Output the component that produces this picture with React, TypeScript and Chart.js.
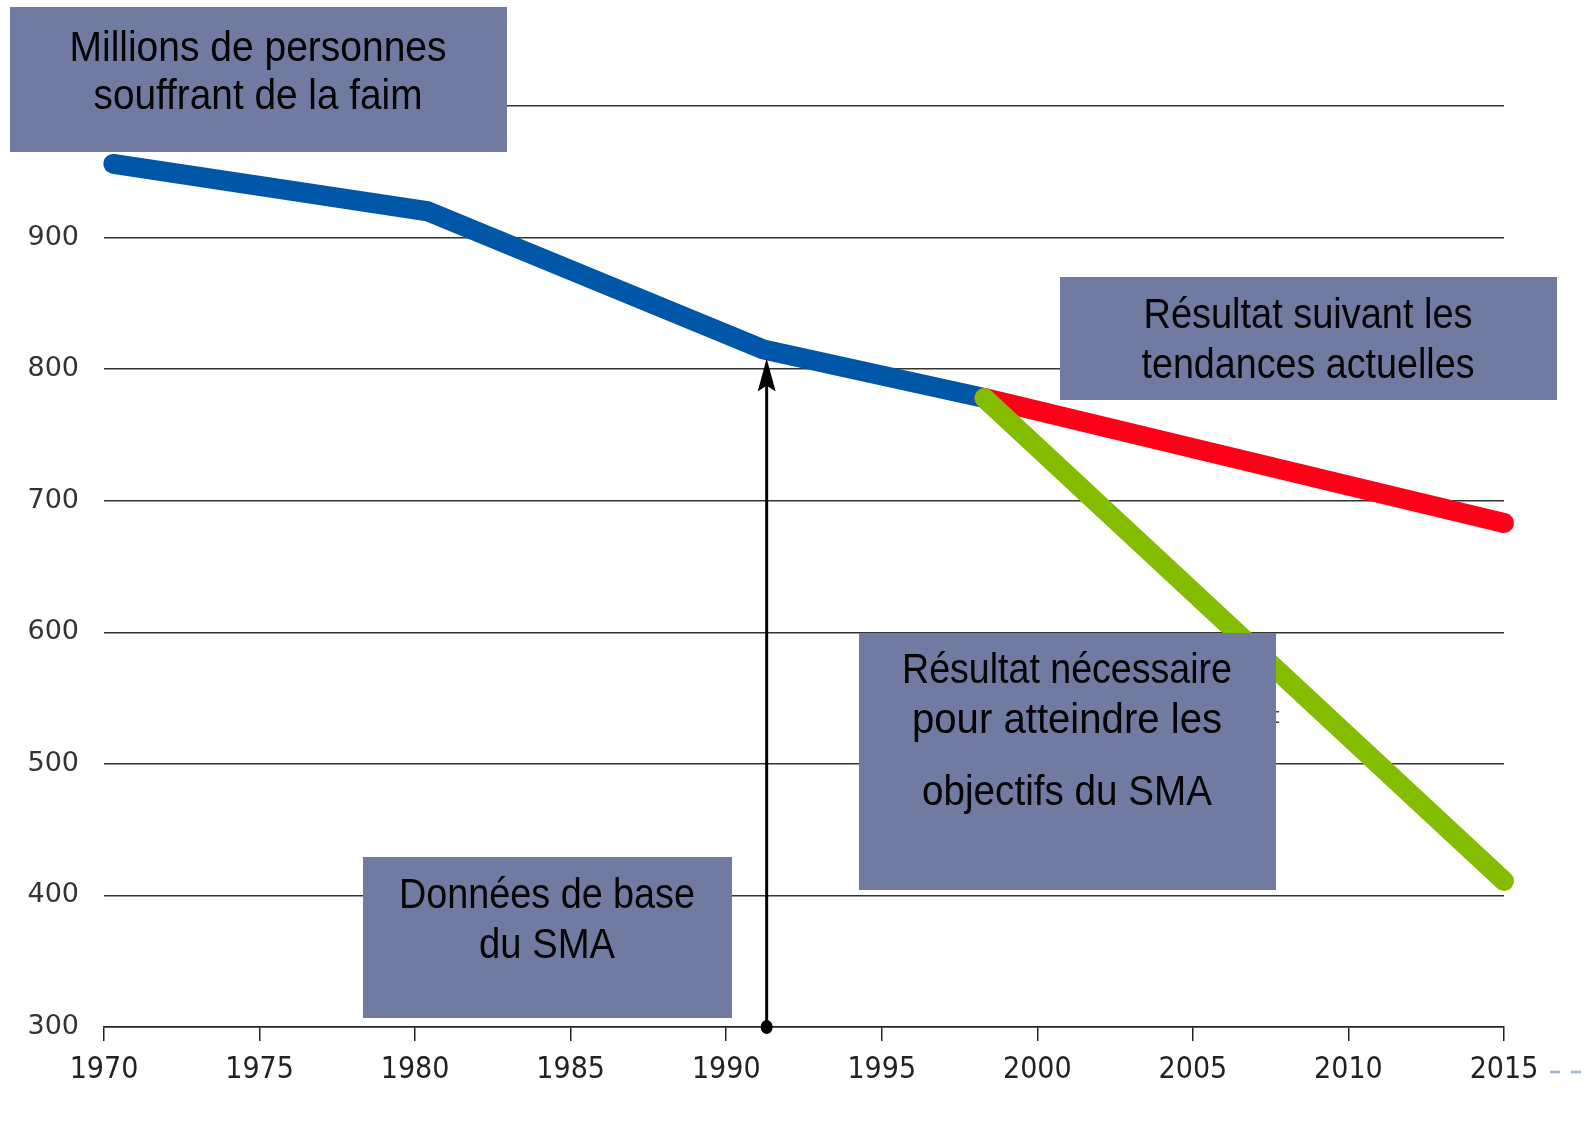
import React, { useEffect, useRef } from "react";
import { Chart, registerables } from "chart.js";

Chart.register(...registerables);

// ---- Data ----
const observedYears = [1970.3, 1980.4, 1991.2, 1998.3];
const observedValues = [956, 920, 815, 778];

const trendYears = [1998.3, 2015];
const trendValues = [778, 683];

const targetYears = [1998.3, 2015];
const targetValues = [778, 411];

const baselineYear = 1991.3;
const baselineFrom = 300;
const baselineTo = 808;

const xMin = 1970;
const xMax = 2015;
const xStep = 5;
const yMin = 300;
const yMax = 1000;
const yStep = 100;

const titleLines = ["Millions de personnes", "souffrant de la faim"];
const trendLines = ["Résultat suivant les", "tendances actuelles"];
const targetLines = ["Résultat nécessaire", "pour atteindre les", "objectifs du SMA"];
const baseLines = ["Données de base", "du SMA"];

// ---- Styles / layout ----
const BOX_COLOR = "#717BA1";
const BOX_FONT = "43px 'Liberation Sans', Arial, sans-serif";

type Box = { x: number; y: number; w: number; h: number; cx: number; baselines: number[]; widths: number[]; lines: string[] };

const boxes: Box[] = [
  { x: 10, y: 7, w: 497, h: 145, cx: 258, baselines: [61, 109], widths: [377, 329], lines: titleLines },
  { x: 1060, y: 277, w: 497, h: 123, cx: 1308, baselines: [328, 378], widths: [329, 333], lines: trendLines },
  { x: 859, y: 633, w: 417, h: 257, cx: 1067, baselines: [683, 733, 805], widths: [330, 310, 290], lines: targetLines },
  { x: 363, y: 857, w: 369, h: 161, cx: 547, baselines: [908, 958], widths: [296, 136], lines: baseLines },
];

const toPoints = (xs: number[], ys: number[]) => xs.map((x, i) => ({ x, y: ys[i] }));

const arrowPlugin = {
  id: "baselineArrow",
  afterDatasetsDraw(chart: any) {
    const { ctx, scales } = chart;
    const px = scales.x.getPixelForValue(baselineYear);
    const y0 = scales.y.getPixelForValue(baselineFrom);
    const y1 = scales.y.getPixelForValue(baselineTo);
    ctx.save();
    ctx.strokeStyle = "#000";
    ctx.fillStyle = "#000";
    ctx.lineWidth = 3;
    ctx.beginPath();
    ctx.moveTo(px, y0);
    ctx.lineTo(px, y1 + 20);
    ctx.stroke();
    ctx.beginPath();
    ctx.moveTo(px, y1);
    ctx.lineTo(px + 9, y1 + 33);
    ctx.lineTo(px, y1 + 27);
    ctx.lineTo(px - 9, y1 + 33);
    ctx.closePath();
    ctx.fill();
    ctx.beginPath();
    ctx.ellipse(px, y0, 6, 7, 0, 0, Math.PI * 2);
    ctx.fill();
    ctx.restore();
  },
};

const boxesPlugin = {
  id: "annotationBoxes",
  afterDraw(chart: any) {
    const { ctx } = chart;
    ctx.save();
    // remnant of hidden text next to the target box
    ctx.fillStyle = "#444";
    ctx.font = "22px 'DejaVu Sans', sans-serif";
    ctx.textAlign = "left";
    ctx.textBaseline = "alphabetic";
    ctx.fillText("t", 1271, 723);

    for (const b of boxes) {
      ctx.fillStyle = BOX_COLOR;
      ctx.fillRect(b.x, b.y, b.w, b.h);
      ctx.fillStyle = "#050505";
      ctx.font = BOX_FONT;
      ctx.textAlign = "center";
      ctx.textBaseline = "alphabetic";
      b.lines.forEach((line, i) => {
        const natural = ctx.measureText(line).width || 1;
        const sx = b.widths[i] / natural;
        ctx.save();
        ctx.translate(b.cx, b.baselines[i]);
        ctx.scale(sx, 1);
        ctx.fillText(line, 0, 0);
        ctx.restore();
      });
    }

    // small dashed mark at bottom right
    ctx.strokeStyle = "#9DB4CC";
    ctx.lineWidth = 2.5;
    ctx.setLineDash([10, 11]);
    ctx.beginPath();
    ctx.moveTo(1550, 1072);
    ctx.lineTo(1587, 1072);
    ctx.stroke();
    ctx.restore();
  },
};

export default function App() {
  const ref = useRef<HTMLCanvasElement>(null);

  useEffect(() => {
    const canvas = ref.current;
    if (!canvas) return;
    const lineStyle = {
      borderWidth: 20,
      borderCapStyle: "round",
      borderJoinStyle: "round",
      pointRadius: 0,
      tension: 0,
      clip: false,
    };
    const chart = new Chart(canvas, {
      type: "line",
      data: {
        datasets: [
          {
            label: "Résultat nécessaire",
            data: toPoints(targetYears, targetValues),
            borderColor: "#84BD00",
            ...lineStyle,
            order: 0,
          },
          {
            label: "Tendances actuelles",
            data: toPoints(trendYears, trendValues),
            borderColor: "#FF0019",
            ...lineStyle,
            order: 1,
          },
          {
            label: "Millions de personnes souffrant de la faim",
            data: toPoints(observedYears, observedValues),
            borderColor: "#0057A8",
            ...lineStyle,
            order: 2,
          },
        ] as any,
      },
      options: {
        animation: false,
        responsive: true,
        maintainAspectRatio: false,
        layout: { padding: { top: 106, right: 83, left: 0, bottom: 0 } },
        plugins: { legend: { display: false }, tooltip: { enabled: false } },
        scales: {
          x: {
            type: "linear",
            min: xMin,
            max: xMax,
            ticks: {
              stepSize: xStep,
              autoSkip: false,
              maxRotation: 0,
              callback: (v: any) => String(v),
              color: "#222",
              font: { family: "'DejaVu Sans Condensed', 'DejaVu Sans', sans-serif", size: 30 },
              padding: 11,
            },
            grid: { drawOnChartArea: false, drawTicks: true, tickLength: 14, color: "#222", lineWidth: 1.5 },
            border: { display: true, color: "#222", width: 1.5 },
            afterFit: (s: any) => {
              s.height = 98;
            },
          },
          y: {
            type: "linear",
            min: yMin,
            max: yMax,
            ticks: {
              stepSize: yStep,
              callback: (v: any) => (v === yMax ? "" : String(v)),
              color: "#333",
              font: { family: "'DejaVu Sans', sans-serif", size: 27 },
              padding: 25,
            },
            grid: { color: "#333", lineWidth: 1.5, drawTicks: false },
            border: { display: false },
            afterFit: (s: any) => {
              s.width = 104;
            },
          },
        } as any,
      },
      plugins: [arrowPlugin, boxesPlugin],
    });
    return () => chart.destroy();
  }, []);

  return (
    <div style={{ position: "fixed", left: 0, top: 0, width: 1587, height: 1125, background: "#fff" }}>
      <canvas ref={ref} />
    </div>
  );
}
